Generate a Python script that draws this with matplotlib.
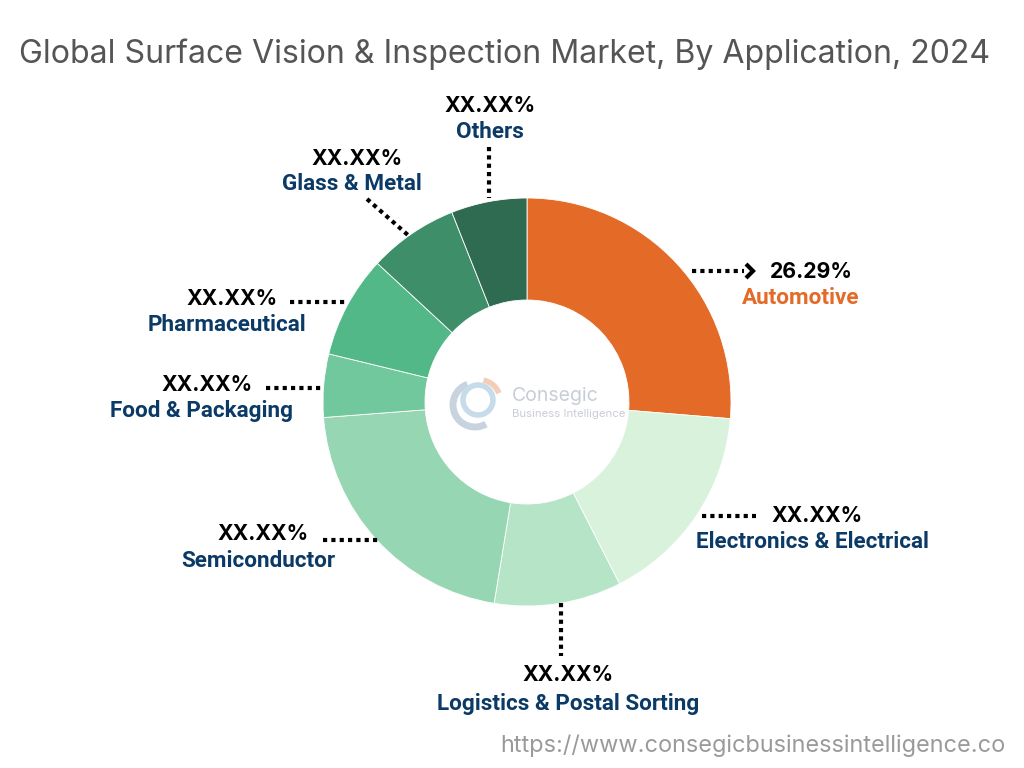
import matplotlib
matplotlib.use("Agg")
import matplotlib.pyplot as plt
from matplotlib.patches import Arc

categories = ["Automotive", "Electronics & Electrical", "Logistics & Postal Sorting",
              "Semiconductor", "Food & Packaging", "Pharmaceutical", "Glass & Metal", "Others"]
shares = [26.29, 16.2, 10.06, 21.2, 5.0, 8.1, 7.1, 6.0]
value_labels = ["26.29%", "XX.XX%", "XX.XX%", "XX.XX%", "XX.XX%", "XX.XX%", "XX.XX%", "XX.XX%"]
colors = ["#E36A27", "#D9F2DC", "#B5E4C7", "#96D6B2", "#72C89D", "#52B888", "#3F8E6A", "#2E6B50"]

title = "Global Surface Vision & Inspection Market, By Application, 2024"
url = "https://www.consegicbusinessintelligence.co"

W, H = 1024, 768
fig = plt.figure(figsize=(W / 100, H / 100), dpi=100)
ax = fig.add_axes([0, 0, 1, 1])
ax.set_xlim(0, W)
ax.set_ylim(0, H)
ax.set_aspect("equal")
ax.axis("off")

def Y(y):
    return H - y

cx, cy, R = 527, 402, 204
ax.pie(shares, colors=colors, startangle=90, counterclock=False,
       center=(cx, Y(cy)), radius=R,
       wedgeprops=dict(width=R * 0.5, edgecolor="white", linewidth=0.6))
ax.set_xlim(0, W)
ax.set_ylim(0, H)

# title & footer
ax.text(505, Y(54), title, ha="center", va="center", fontsize=23.1,
        family="Inter", color="#555555")
ax.text(1005, Y(746), url, ha="right", va="center", fontsize=16.9,
        family="Inter", color="#9a9a9a")

# faded logo in the hole
ax.add_patch(Arc((475, Y(405)), 44, 44, theta1=110, theta2=300, lw=5, color="#c9d3df"))
ax.add_patch(Arc((478, Y(400)), 30, 30, theta1=0, theta2=360, lw=4, color="#c7dcea"))
ax.add_patch(Arc((480, Y(400)), 40, 40, theta1=20, theta2=80, lw=4, color="#f3cdb8"))
ax.text(512, Y(396), "Consegic", ha="left", va="center", fontsize=14,
        family="Inter", color="#c9cdd8")
ax.text(512, Y(414), "Business Intelligence", ha="left", va="center", fontsize=8.2,
        family="Inter", color="#c9cdd8")

navy = "#0B3A66"
# label layout: (value_xy, name_xy, leader line points)
layout = {
    "Automotive": ((811, 272), (801, 298), [(692, 271), (744, 271)]),
    "Electronics & Electrical": ((817, 516), (812, 542), [(702, 516), (756, 516)]),
    "Logistics & Postal Sorting": ((568, 675), (568, 704), [(561, 603), (561, 656)]),
    "Semiconductor": ((263, 534), (258, 561), [(323, 540), (378, 540)]),
    "Food & Packaging": ((207, 385), (202, 411), [(266, 388), (321, 388)]),
    "Pharmaceutical": ((232, 299), (227, 325), [(290, 302), (346, 302)]),
    "Glass & Metal": ((357, 159), (352, 184), [(367, 199), (409, 236)]),
    "Others": ((490, 106), (490, 132), [(489, 147), (489, 198)]),
}

for cat, val in zip(categories, value_labels):
    (vx, vy), (nx, ny), pts = layout[cat]
    ax.text(vx, Y(vy), val, ha="center", va="center", fontsize=15.3,
            family="Inter", weight="bold", color="black")
    ax.text(nx, Y(ny), cat, ha="center", va="center", fontsize=16.2,
            family="Roboto", weight="bold",
            color=colors[0] if cat == "Automotive" else navy)
    xs = [p[0] for p in pts]
    ys = [Y(p[1]) for p in pts]
    ax.plot(xs, ys, color="black", lw=3, linestyle=(0, (1, 1)), dash_capstyle="butt")

# arrow chevron on automotive leader
ax.plot([746, 753, 746], [Y(264), Y(271), Y(278)], color="black", lw=3,
        solid_capstyle="butt", solid_joinstyle="miter")

fig.savefig("out.png", dpi=100)
